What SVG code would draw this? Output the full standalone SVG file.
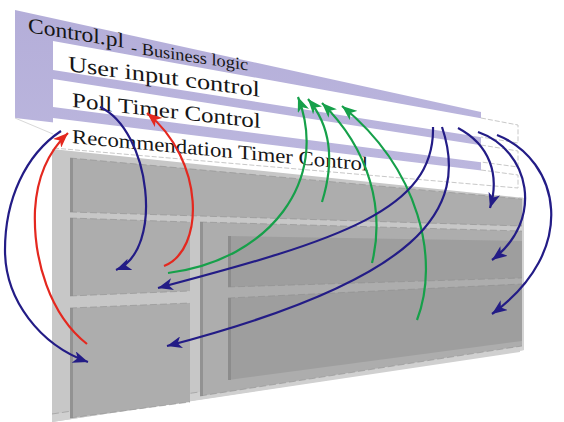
<svg xmlns="http://www.w3.org/2000/svg" width="564" height="422" viewBox="0 0 564 422">
<style>
.t{font-family:"Liberation Serif","Times New Roman",serif;fill:#161616}
.strip{fill:#ffffff}
.dash{fill:none;stroke:#c8c8c8;stroke-width:1;stroke-dasharray:5 2}
.pan{fill:#adadad}
.inner{fill:#9e9e9e}
.bev{fill:#929292}
.edge{fill:none;stroke:#8c8c8c;stroke-width:1;stroke-dasharray:7 3;opacity:0.55}
.c{fill:none;stroke-width:2.2}
.nv{stroke:#231c86}
.rd{stroke:#e4281f}
.gr{stroke:#16a04a}
</style>
<defs>
<marker id="mn" markerWidth="16" markerHeight="12" refX="15" refY="6" orient="auto" markerUnits="userSpaceOnUse"><path d="M0,0 L15,6 L0,12 L4,6 Z" fill="#231c86"/></marker>
<marker id="mr" markerWidth="16" markerHeight="12" refX="15" refY="6" orient="auto" markerUnits="userSpaceOnUse"><path d="M0,0 L15,6 L0,12 L4,6 Z" fill="#e4281f"/></marker>
<marker id="mg" markerWidth="16" markerHeight="12" refX="15" refY="6" orient="auto" markerUnits="userSpaceOnUse"><path d="M0,0 L15,6 L0,12 L4,6 Z" fill="#16a04a"/></marker>
<linearGradient id="pg" x1="0" y1="0" x2="0" y2="1"><stop offset="0" stop-color="#b4aed9"/><stop offset="1" stop-color="#bcb7de"/></linearGradient>
</defs>

<g id="business-logic">
<polygon points="15,10 481,112 481,172 15,118" fill="url(#pg)"/>
<line x1="15" y1="118" x2="53" y2="134" stroke="#d8d8d8" stroke-width="1"/>
<text class="t" font-size="21" transform="matrix(1.12,0.185,0,1,28,32)">Control.pl</text>
<text class="t" font-size="17" transform="matrix(1.08,0.16,0,1,131,53)">- Business logic</text>
</g>

<g id="user-input-control">
<polygon class="strip" points="53,41 518,125 518,143 53,70"/>
<path class="dash" d="M481,118 L518,125 L518,143 L481,137"/>
<text class="t" font-size="22" transform="matrix(1.2,0.161,0,1,68,71)">User input control</text>
</g>

<g id="poll-timer-control">
<polygon class="strip" points="53,79 518,151 518,167 53,107"/>
<path class="dash" d="M481,145 L518,151 L518,167 L481,162"/>
<text class="t" font-size="21" transform="matrix(1.19,0.133,0,1,72,107)">Poll Timer Control</text>
</g>

<g id="recommendation-timer-control">
<polygon class="strip" points="53,118 518,175 518,188 53,148"/>
<path class="dash" d="M481,170 L518,175 L518,188 L53,148"/>
<text class="t" font-size="20" transform="matrix(1.14,0.107,0,1,72,143)">Recommendation Timer Control</text>
</g>

<g id="view-frame">
<polygon points="52,149 524,198 524,350 52,422" fill="#c7c7c7"/>
<polygon points="519,197 524,198 524,350 519,351" fill="#d4d4d4"/>
<polygon points="52,414 520,344 520,352 52,422" fill="#d0d0d0"/>
<line x1="52" y1="414" x2="520" y2="344" class="edge"/>
</g>

<g id="panel-top">
<polygon class="pan" points="70,158 522,199 522,226 70,212"/>
<polygon class="bev" points="70,158 73,158.3 73,212 70,212"/>
<line class="edge" x1="70" y1="158" x2="522" y2="199"/>
<line class="edge" x1="70" y1="212" x2="522" y2="226"/>
</g>

<g id="panel-left-middle">
<polygon class="pan" points="70,218 190,222 190,291 70,296"/>
<polygon class="bev" points="70,218 73,218 73,296 70,296"/>
<line class="edge" x1="70" y1="218" x2="190" y2="222"/>
<line class="edge" x1="70" y1="296" x2="190" y2="291"/>
</g>

<g id="panel-left-bottom">
<polygon class="pan" points="70,308 190,303 190,402 70,418"/>
<polygon class="bev" points="70,308 73,308 73,418 70,418"/>
<line class="edge" x1="70" y1="308" x2="190" y2="303"/>
<line class="edge" x1="70" y1="418" x2="190" y2="402"/>
</g>

<g id="panel-right">
<polygon class="pan" points="200,222 522,231 522,346 200,396"/>
<polygon class="bev" points="200,222 203,222 203,396 200,396"/>
<line class="edge" x1="200" y1="222" x2="522" y2="231"/>
<line class="edge" x1="200" y1="396" x2="522" y2="346"/>
</g>

<g id="panel-right-upper">
<polygon class="inner" points="228,236 522,241 522,278 228,287"/>
<polygon fill="#8c8c8c" points="228,236 231,236 231,287 228,287"/>
<line class="edge" x1="228" y1="287" x2="522" y2="278"/>
</g>

<g id="panel-right-lower">
<polygon class="inner" points="228,298 522,284 522,341 228,380"/>
<polygon fill="#8c8c8c" points="228,298 231,298 231,380 228,380"/>
<line class="edge" x1="228" y1="298" x2="522" y2="284"/>
</g>

<g id="connectors">
<path class="c nv" marker-end="url(#mn)" d="M61,131 C25,155 5,200 5,250 C5,300 40,345 88,362"/>
<path class="c rd" marker-end="url(#mr)" d="M87,344 C50,315 33,260 35,210 C37,175 50,150 68,133"/>
<path class="c nv" marker-end="url(#mn)" d="M100,107 C150,130 165,250 116,270"/>
<path class="c rd" marker-end="url(#mr)" d="M164,266 C205,250 205,160 147,113"/>
<path class="c gr" marker-end="url(#mg)" d="M168,273 C270,260 330,180 298,97"/>
<path class="c gr" marker-end="url(#mg)" d="M322,202 C335,160 330,125 308,99"/>
<path class="c gr" marker-end="url(#mg)" d="M372,263 C385,210 370,150 322,103"/>
<path class="c gr" marker-end="url(#mg)" d="M417,320 C440,260 420,170 342,106"/>
<path class="c nv" marker-end="url(#mn)" d="M433,127 C435,210 340,240 158,288"/>
<path class="c nv" marker-end="url(#mn)" d="M442,127 C470,210 420,280 167,346"/>
<path class="c nv" marker-end="url(#mn)" d="M458,128 C490,145 500,175 490,208"/>
<path class="c nv" marker-end="url(#mn)" d="M478,132 C530,150 545,220 492,260"/>
<path class="c nv" marker-end="url(#mn)" d="M497,135 C560,160 580,250 492,314"/>
</g>
</svg>
